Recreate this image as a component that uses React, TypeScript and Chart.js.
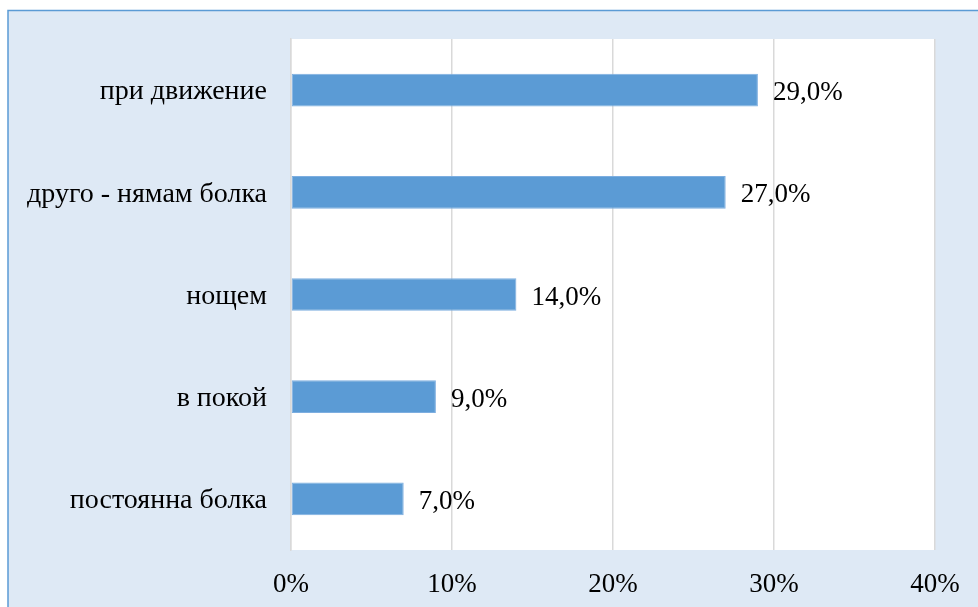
import React, { useEffect, useRef } from "react";
import { Chart, registerables } from "chart.js";

Chart.register(...registerables);

const categories = ["при движение", "друго - нямам болка", "нощем", "в покой", "постоянна болка"];
const values = [29, 27, 14, 9, 7];
const tickValues = [0, 10, 20, 30, 40];

const FONT = "'Liberation Serif', 'Times New Roman', serif";

const framePlugin = {
  id: "frame",
  beforeDraw(chart: any) {
    const { ctx, chartArea, width, height } = chart;
    ctx.save();
    ctx.fillStyle = "#ffffff";
    ctx.fillRect(0, 0, width, height);
    ctx.fillStyle = "#dee9f5";
    ctx.fillRect(8, 10, width - 8, height - 10);
    ctx.strokeStyle = "#5b9bd5";
    ctx.lineWidth = 1.5;
    ctx.beginPath();
    ctx.moveTo(8, height);
    ctx.lineTo(8, 10.5);
    ctx.lineTo(width, 10.5);
    ctx.stroke();
    ctx.fillStyle = "#ffffff";
    ctx.fillRect(chartArea.left, chartArea.top, chartArea.right - chartArea.left, chartArea.bottom - chartArea.top);
    ctx.restore();
  },
};

const labelPlugin = {
  id: "barLabels",
  afterDatasetsDraw(chart: any) {
    const { ctx } = chart;
    const meta = chart.getDatasetMeta(0);
    ctx.save();
    ctx.font = `27px ${FONT}`;
    ctx.fillStyle = "#000000";
    ctx.textAlign = "left";
    ctx.textBaseline = "middle";
    meta.data.forEach((bar: any, i: number) => {
      const v = values[i];
      ctx.fillText(v.toFixed(1).replace(".", ",") + "%", bar.x + 15, bar.y + 3);
    });
    ctx.restore();
  },
};

export default function App() {
  const ref = useRef<HTMLCanvasElement | null>(null);
  useEffect(() => {
    if (!ref.current) return;
    const chart = new Chart(ref.current, {
      type: "bar",
      data: {
        labels: categories,
        datasets: [
          {
            data: values,
            backgroundColor: "#5b9bd5",
            borderColor: "#7daee0",
            borderWidth: 1,
            borderSkipped: false,
            barPercentage: 0.64,
            categoryPercentage: 0.5,
          },
        ],
      },
      options: {
        indexAxis: "y",
        animation: false,
        responsive: false,
        maintainAspectRatio: false,
        layout: { padding: { left: 0, top: 39, right: 43, bottom: 0 } },
        plugins: { legend: { display: false }, tooltip: { enabled: false } },
        scales: {
          x: {
            min: 0,
            max: 40,
            afterBuildTicks(scale: any) {
              scale.ticks = tickValues.map((v) => ({ value: v }));
            },
            afterFit(scale: any) {
              scale.height = 57;
              scale.paddingLeft = 0;
              scale.paddingRight = 0;
            },
            ticks: {
              callback: (v: any) => v + "%",
              font: { family: FONT, size: 27 },
              color: "#000000",
              padding: 19,
              maxRotation: 0,
            },
            grid: { color: "#d9d9d9", lineWidth: 1.5, drawTicks: false },
            border: { display: false },
          },
          y: {
            afterFit(scale: any) {
              scale.width = 291;
              scale.paddingTop = 0;
              scale.paddingBottom = 0;
            },
            ticks: {
              font: { family: FONT, size: 28 },
              color: "#000000",
              padding: 24,
              labelOffset: 2,
            },
            grid: { display: false, drawTicks: false },
            border: { display: true, color: "#d9d9d9", width: 1.5 },
          },
        },
      },
      plugins: [framePlugin, labelPlugin],
    });
    return () => chart.destroy();
  }, []);
  return (
    <div style={{ position: "fixed", left: 0, top: 0, width: 978, height: 607 }}>
      <canvas ref={ref} width={978} height={607} style={{ display: "block" }} />
    </div>
  );
}
